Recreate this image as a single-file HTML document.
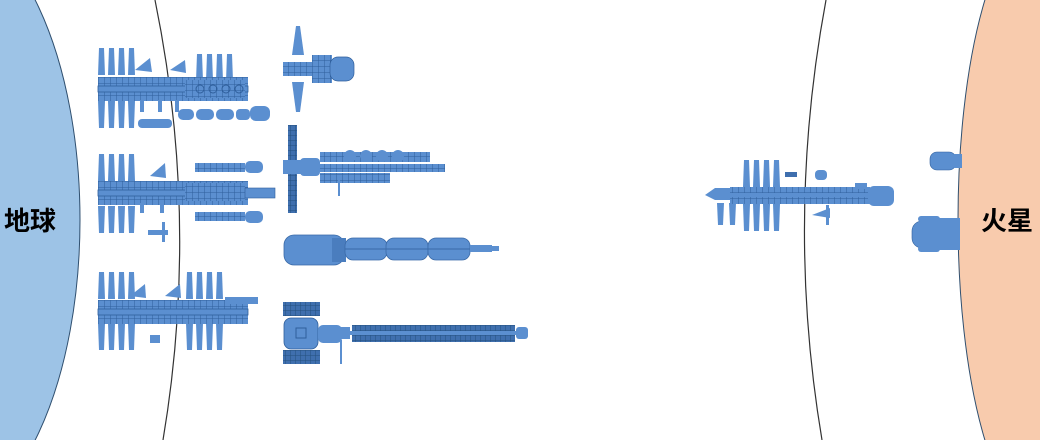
<!DOCTYPE html>
<html><head><meta charset="utf-8"><style>
html,body{margin:0;padding:0;background:#fff;width:1040px;height:440px;overflow:hidden}
svg{display:block;overflow:hidden;width:1040px;height:440px}
text{font-family:"Liberation Sans","Noto Sans CJK SC",sans-serif;font-weight:bold}
</style></head><body>
<svg width="1040" height="440" viewBox="0 0 1040 440" xmlns="http://www.w3.org/2000/svg">
<defs>
<g id="pt"><polygon points="1,0 6,0 7,27 0,27" fill="#5b8fd0"/></g>
<g id="pb"><polygon points="0,0 7,0 6,27 1,27" fill="#5b8fd0"/></g>
<g id="p4t"><use href="#pt" x="0"/><use href="#pt" x="10"/><use href="#pt" x="20"/><use href="#pt" x="30"/></g>
<g id="p4b"><use href="#pb" x="0"/><use href="#pb" x="10"/><use href="#pb" x="20"/><use href="#pb" x="30"/></g>
<pattern id="grid" width="6" height="6" patternUnits="userSpaceOnUse"><rect width="6" height="6" fill="#5b8fd0"/><path d="M0 0H6M0 0V6" stroke="#2f5f9c" stroke-width="1"/></pattern>
<pattern id="dgrid" width="5" height="5" patternUnits="userSpaceOnUse"><rect width="5" height="5" fill="#3f6fae"/><path d="M0 0H5M0 0V5" stroke="#24507f" stroke-width="1"/></pattern>
<g id="truss">
<rect x="0" y="0" width="150" height="24" fill="url(#grid)"/>
<rect x="0" y="9" width="150" height="6" fill="#5b8fd0" stroke="#2f5f9c" stroke-width="0.8"/>
</g>
</defs>

<ellipse cx="-60" cy="220" rx="140" ry="300" fill="#9dc3e6" stroke="#2f4f6f" stroke-width="1"/>
<text x="4" y="230" font-size="26" fill="#000">地球</text>
<ellipse cx="1042" cy="220" rx="84" ry="300" fill="#f8cbad" stroke="#2f4f6f" stroke-width="1"/>
<text x="981" y="230" font-size="26" fill="#000">火星</text>
<path d="M155 0 Q200 220 163 440" fill="none" stroke="#333" stroke-width="1.2"/>
<path d="M826 0 Q785 220 822 440" fill="none" stroke="#333" stroke-width="1.2"/>

<use href="#p4t" x="98" y="48"/><use href="#p4b" x="98" y="101"/>
<use href="#p4t" x="196" y="54"/>
<polygon points="135,70 150,58 152,72" fill="#5b8fd0"/><polygon points="170,70 185,60 186,73" fill="#5b8fd0"/>
<use href="#truss" x="98" y="77"/>
<rect x="185" y="80" width="60" height="18" fill="url(#grid)"/>
<circle cx="200" cy="89" r="4" fill="none" stroke="#2f5f9c"/><circle cx="213" cy="89" r="4" fill="none" stroke="#2f5f9c"/><circle cx="226" cy="89" r="4" fill="none" stroke="#2f5f9c"/><circle cx="239" cy="89" r="4" fill="none" stroke="#2f5f9c"/>
<rect x="140" y="100" width="4" height="12" fill="#5b8fd0"/><rect x="158" y="100" width="4" height="12" fill="#5b8fd0"/><rect x="175" y="100" width="4" height="12" fill="#5b8fd0"/>
<rect x="178" y="109" width="16" height="11" rx="5" fill="#5b8fd0"/><rect x="196" y="109" width="18" height="11" rx="5" fill="#5b8fd0"/><rect x="216" y="109" width="18" height="11" rx="5" fill="#5b8fd0"/><rect x="236" y="109" width="14" height="11" rx="4" fill="#5b8fd0"/><rect x="250" y="106" width="20" height="15" rx="6" fill="#5b8fd0"/>
<rect x="138" y="119" width="34" height="9" rx="4" fill="#5b8fd0"/>

<use href="#p4t" x="98" y="154"/><use href="#p4b" x="98" y="206"/>
<polygon points="150,176 165,163 166,178" fill="#5b8fd0"/>
<use href="#truss" x="98" y="181"/>
<rect x="185" y="183" width="60" height="18" fill="url(#grid)"/>
<rect x="195" y="163" width="50" height="9" fill="url(#grid)"/><rect x="245" y="161" width="18" height="12" rx="5" fill="#5b8fd0"/>
<rect x="195" y="212" width="50" height="9" fill="url(#grid)"/><rect x="245" y="211" width="18" height="12" rx="5" fill="#5b8fd0"/>
<rect x="245" y="188" width="30" height="10" fill="#5b8fd0" stroke="#2f5f9c" stroke-width="0.6"/>
<rect x="140" y="203" width="4" height="10" fill="#5b8fd0"/><rect x="160" y="203" width="4" height="10" fill="#5b8fd0"/>
<rect x="148" y="230" width="20" height="5" fill="#5b8fd0"/><rect x="162" y="222" width="3" height="20" fill="#5b8fd0"/>

<use href="#p4t" x="98" y="272"/><use href="#p4b" x="98" y="323"/>
<use href="#p4t" x="186" y="272"/><use href="#p4b" x="186" y="323"/>
<polygon points="130,296 145,284 146,298" fill="#5b8fd0"/><polygon points="165,296 180,284 181,298" fill="#5b8fd0"/>
<use href="#truss" x="98" y="300"/>
<rect x="225" y="297" width="33" height="7" fill="#5b8fd0"/>
<rect x="150" y="335" width="10" height="8" fill="#5b8fd0"/>

<polygon points="296,26 300,26 304,55 292,55" fill="#5b8fd0"/><polygon points="292,82 304,82 300,112 296,112" fill="#5b8fd0"/>
<rect x="283" y="62" width="30" height="14" fill="url(#grid)"/>
<rect x="312" y="55" width="20" height="28" fill="url(#grid)"/>
<rect x="330" y="57" width="24" height="24" rx="8" fill="#5b8fd0" stroke="#2f5f9c" stroke-width="0.7"/>

<rect x="288" y="125" width="9" height="88" fill="url(#dgrid)"/>
<rect x="283" y="160" width="20" height="14" fill="#5b8fd0"/>
<rect x="300" y="158" width="20" height="18" rx="4" fill="#5b8fd0"/>
<rect x="320" y="152" width="110" height="10" fill="url(#grid)"/>
<rect x="320" y="164" width="125" height="8" fill="url(#grid)"/>
<rect x="320" y="173" width="70" height="10" fill="url(#grid)"/>
<circle cx="350" cy="156" r="6" fill="#5b8fd0"/><circle cx="366" cy="156" r="6" fill="#5b8fd0"/><circle cx="382" cy="156" r="6" fill="#5b8fd0"/><circle cx="398" cy="156" r="6" fill="#5b8fd0"/>
<rect x="338" y="176" width="2" height="20" fill="#5b8fd0"/>

<rect x="284" y="235" width="60" height="30" rx="10" fill="#5b8fd0" stroke="#3a6aa8" stroke-width="0.8"/>
<rect x="332" y="238" width="14" height="24" fill="#4a7dbe"/>
<rect x="345" y="238" width="42" height="22" rx="8" fill="#5b8fd0" stroke="#3a6aa8" stroke-width="0.8"/>
<rect x="386" y="238" width="42" height="22" rx="8" fill="#5b8fd0" stroke="#3a6aa8" stroke-width="0.8"/>
<rect x="428" y="238" width="42" height="22" rx="8" fill="#5b8fd0" stroke="#3a6aa8" stroke-width="0.8"/>
<line x1="345" y1="249" x2="470" y2="249" stroke="#3a6aa8"/>
<rect x="470" y="245" width="22" height="7" fill="#5b8fd0"/><rect x="492" y="246" width="7" height="5" fill="#5b8fd0"/>

<rect x="283" y="302" width="37" height="14" fill="url(#dgrid)"/>
<rect x="283" y="350" width="37" height="14" fill="url(#dgrid)"/>
<rect x="284" y="318" width="34" height="31" rx="7" fill="#5b8fd0" stroke="#2f5f9c" stroke-width="0.8"/>
<rect x="296" y="328" width="10" height="10" fill="none" stroke="#2f5f9c"/>
<rect x="318" y="325" width="24" height="18" rx="5" fill="#5b8fd0"/>
<rect x="340" y="327" width="10" height="12" fill="#5b8fd0"/>
<rect x="352" y="325" width="163" height="17" fill="url(#dgrid)"/>
<rect x="350" y="331" width="170" height="4" fill="#5b8fd0"/>
<rect x="516" y="327" width="12" height="12" rx="3" fill="#5b8fd0"/>
<rect x="340" y="340" width="2" height="24" fill="#5b8fd0"/>

<polygon points="705,195 715,188 745,188 745,200 715,200" fill="#5b8fd0"/>
<use href="#p4t" x="743" y="160"/>
<use href="#p4b" x="743" y="204"/>
<polygon points="717,203 724,203 723,225 718,225" fill="#5b8fd0"/><polygon points="729,203 736,203 735,225 730,225" fill="#5b8fd0"/>
<rect x="730" y="187" width="140" height="17" fill="url(#grid)"/>
<rect x="730" y="193" width="140" height="4" fill="#5b8fd0"/>
<rect x="868" y="186" width="26" height="20" rx="6" fill="#5b8fd0"/>
<rect x="815" y="170" width="12" height="10" rx="4" fill="#5b8fd0"/><rect x="785" y="172" width="12" height="5" fill="#3f6fae"/>
<polygon points="812,215 830,208 830,218" fill="#5b8fd0"/><rect x="826" y="205" width="3" height="20" fill="#5b8fd0"/>
<rect x="855" y="183" width="12" height="6" fill="#5b8fd0"/>

<rect x="930" y="152" width="26" height="18" rx="7" fill="#5b8fd0" stroke="#2f5f9c" stroke-width="0.6"/>
<rect x="954" y="154" width="8" height="14" fill="#5b8fd0"/>
<rect x="912" y="221" width="40" height="27" rx="10" fill="#5b8fd0" stroke="#2f5f9c" stroke-width="0.6"/>
<rect x="918" y="216" width="22" height="6" rx="3" fill="#5b8fd0"/><rect x="918" y="246" width="22" height="6" rx="3" fill="#5b8fd0"/>
<rect x="938" y="218" width="22" height="32" fill="#5b8fd0"/>
</svg>
</body></html>
